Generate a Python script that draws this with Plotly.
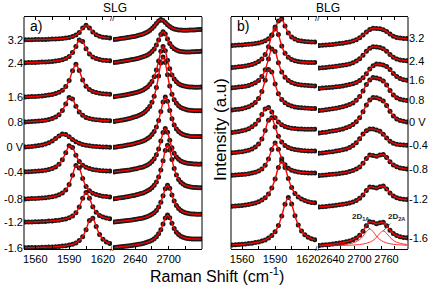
import plotly.graph_objects as go

# ---------------- data ----------------
VOLTAGES = ["3.2", "2.4", "1.6", "0.8", "0 V", "-0.4", "-0.8", "-1.2", "-1.6"]

G_SHIFT = [1551, 1554, 1557, 1560, 1563, 1566, 1569, 1572, 1575, 1578, 1581, 1584, 1587,
           1590, 1593, 1596, 1599, 1602, 1605, 1608, 1611, 1614, 1617, 1620, 1623, 1626]
SLG_2D_SHIFT = [2602, 2606, 2610, 2614, 2618, 2622, 2626, 2630, 2634, 2638, 2642, 2646, 2650,
                2654, 2658, 2662, 2666, 2670, 2674, 2678, 2682, 2686, 2690, 2694, 2698, 2702,
                2706, 2710, 2714, 2718, 2722, 2726, 2730, 2734, 2738, 2742, 2746, 2750, 2754, 2758]
BLG_2D_SHIFT = [2592.5, 2600, 2607.5, 2615, 2622.5, 2630, 2637.5, 2645, 2652.5, 2660, 2667.5,
                2675, 2682.5, 2690, 2697.5, 2705, 2712.5, 2720, 2727.5, 2735, 2742.5, 2750,
                2757.5, 2765, 2772.5, 2780, 2787.5]

G_TICKS = [1560, 1590, 1620]
G_TICK_TEXT = ["1560", "1590", "1620"]
G_MINOR = [1575, 1605]
SLG_2D_TICKS = [2640, 2700]
SLG_2D_TICK_TEXT = ["2640", "2700"]
SLG_2D_MINOR = [2670, 2730]
BLG_2D_TICKS = [2640, 2700, 2760]
BLG_2D_TICK_TEXT = ["2640", "2700", "2760"]
BLG_2D_MINOR = [2610, 2670, 2730]

# vertical offsets of the stacked spectra (a.u.)
SLG_OFFSET = [209, 186, 151.5, 126.5, 101, 76.5, 49.5, 26.5, 1]
BLG_OFFSET = [203, 180.5, 160, 137.5, 115, 95, 73, 41.5, 3]

# SLG, G band
slg_g_3p2 = [0.2, 0.3, 0.3, 0.4, 0.5, 0.5, 0.6, 0.7, 0.9, 1.0, 1.2, 1.5, 1.9, 2.4, 3.4, 4.9, 7.6, 11.9, 14.7, 12.1, 7.9, 5.2, 3.7, 2.8, 2.4, 2.1]
slg_g_2p4 = [0.3, 0.4, 0.5, 0.6, 0.8, 0.9, 1.1, 1.3, 1.6, 2.0, 2.5, 3.2, 4.5, 6.6, 10.4, 16.5, 23.0, 21.4, 14.3, 9.1, 6.1, 4.4, 3.5, 2.8, 2.5, 2.2]
slg_g_1p6 = [0.5, 0.7, 0.9, 1.1, 1.3, 1.6, 2.0, 2.5, 3.0, 3.9, 5.2, 7.3, 10.9, 17.0, 26.7, 33.2, 26.9, 17.4, 11.3, 7.9, 6.0, 4.9, 4.2, 3.7, 3.4, 3.2]
slg_g_0p8 = [0.6, 0.8, 1.0, 1.2, 1.4, 1.8, 2.2, 2.9, 3.9, 5.4, 7.8, 12.0, 18.6, 24.9, 23.5, 16.3, 10.6, 7.2, 5.1, 4.0, 3.2, 2.7, 2.4, 2.1, 2.0, 1.8]
slg_g_0 = [1.1, 1.3, 1.6, 1.9, 2.4, 3.0, 3.9, 5.2, 7.0, 9.4, 12.1, 13.9, 13.5, 11.2, 8.5, 6.3, 4.7, 3.6, 2.8, 2.2, 1.8, 1.5, 1.2, 1.1, 0.9, 0.8]
slg_g_m0p4 = [0.7, 0.8, 1.0, 1.2, 1.5, 1.8, 2.3, 2.9, 4.0, 5.6, 8.2, 12.7, 19.8, 26.7, 25.0, 17.3, 11.0, 7.3, 5.2, 3.9, 3.0, 2.4, 2.0, 1.8, 1.6, 1.4]
slg_g_m0p8 = [0.6, 0.7, 0.9, 1.0, 1.2, 1.5, 1.8, 2.2, 2.8, 3.5, 4.7, 6.6, 9.6, 15.1, 24.2, 33.9, 31.4, 21.0, 13.1, 8.8, 6.3, 4.9, 3.9, 3.3, 2.9, 2.6]
slg_g_m1p2 = [0.4, 0.5, 0.6, 0.7, 0.8, 1.0, 1.1, 1.4, 1.6, 1.9, 2.3, 2.9, 3.6, 4.8, 6.6, 9.8, 15.5, 24.2, 30.1, 24.3, 15.7, 10.2, 7.1, 5.4, 4.4, 3.7]
slg_g_m1p6 = [0.3, 0.4, 0.4, 0.5, 0.6, 0.7, 0.8, 0.9, 1.1, 1.3, 1.5, 1.9, 2.3, 2.9, 3.7, 5.1, 7.4, 11.3, 18.2, 27.6, 29.8, 21.4, 13.4, 8.7, 6.0, 4.5]

# SLG, 2D band
slg_2d_3p2 = [0.5, 0.8, 1.1, 1.4, 1.7, 2.1, 2.4, 2.8, 3.2, 3.6, 4.1, 4.7, 5.3, 6.0, 6.9, 8.1, 9.5, 11.4, 13.8, 16.6, 19.1, 20.4, 19.6, 17.6, 15.3, 13.4, 12.1, 11.1, 10.5, 10.1, 9.9, 9.8, 9.8, 9.8, 9.9, 10.0, 10.1, 10.3, 10.4, 10.6]
slg_2d_2p4 = [0.5, 0.8, 1.1, 1.5, 1.8, 2.2, 2.5, 2.9, 3.4, 3.8, 4.3, 4.8, 5.5, 6.2, 7.0, 8.1, 9.5, 11.4, 14.1, 17.9, 22.9, 28.4, 31.2, 29.0, 24.1, 19.6, 16.3, 14.2, 12.9, 12.1, 11.5, 11.2, 11.1, 11.0, 11.1, 11.2, 11.3, 11.4, 11.6, 11.8]
slg_2d_1p6 = [0.8, 1.2, 1.5, 1.8, 2.2, 2.5, 2.9, 3.4, 3.9, 4.4, 5.0, 5.7, 6.6, 7.6, 8.9, 10.6, 12.9, 16.1, 20.8, 27.4, 36.4, 46.3, 51.1, 46.7, 37.3, 28.8, 22.6, 18.4, 15.7, 13.8, 12.6, 11.8, 11.2, 10.8, 10.6, 10.4, 10.3, 10.3, 10.3, 10.4]
slg_2d_0p8 = [1.1, 1.5, 1.8, 2.2, 2.6, 3.1, 3.5, 4.1, 4.7, 5.4, 6.1, 6.9, 8.1, 9.3, 11.0, 13.2, 16.1, 20.3, 26.2, 34.9, 46.6, 59.4, 65.6, 59.9, 47.7, 36.4, 28.3, 22.8, 19.2, 16.7, 15.1, 14.0, 13.2, 12.6, 12.2, 12.1, 11.8, 11.8, 11.7, 11.8]
slg_2d_0 = [0.7, 1.1, 1.4, 1.8, 2.1, 2.5, 2.9, 3.3, 3.8, 4.3, 4.9, 5.5, 6.2, 7.0, 8.1, 9.4, 11.1, 13.4, 16.5, 21.1, 27.6, 36.5, 46.1, 50.9, 46.7, 37.5, 29.2, 23.1, 19.1, 16.4, 14.7, 13.5, 12.7, 12.2, 11.8, 11.6, 11.5, 11.5, 11.4, 11.5]
slg_2d_m0p4 = [0.6, 0.9, 1.2, 1.4, 1.7, 2.0, 2.3, 2.6, 2.9, 3.4, 3.8, 4.4, 5.0, 5.6, 6.5, 7.6, 9.1, 11.1, 13.8, 17.8, 23.6, 31.5, 40.0, 44.1, 40.3, 32.2, 24.7, 19.3, 15.6, 13.2, 11.6, 10.5, 9.7, 9.2, 8.9, 8.7, 8.5, 8.4, 8.3, 8.4]
slg_2d_m0p8 = [0.7, 1.0, 1.4, 1.7, 2.1, 2.4, 2.8, 3.2, 3.7, 4.1, 4.7, 5.3, 5.9, 6.6, 7.6, 8.7, 10.0, 11.8, 14.2, 17.6, 22.4, 29.4, 38.8, 49.1, 54.2, 49.6, 39.9, 30.9, 24.5, 20.1, 17.3, 15.4, 14.1, 13.3, 12.7, 12.3, 12.0, 12.0, 11.8, 11.8]
slg_2d_m1p2 = [0.5, 0.7, 1.0, 1.2, 1.5, 1.7, 2.0, 2.3, 2.5, 2.9, 3.3, 3.7, 4.1, 4.6, 5.2, 6.0, 7.0, 8.2, 9.8, 12.1, 15.5, 20.3, 26.8, 33.8, 37.3, 34.2, 27.5, 21.4, 16.9, 13.9, 12.0, 10.7, 9.8, 9.2, 8.8, 8.6, 8.4, 8.3, 8.3, 8.3]
slg_2d_m1p6 = [0.4, 0.7, 0.9, 1.2, 1.4, 1.7, 2.0, 2.3, 2.6, 2.9, 3.3, 3.7, 4.1, 4.6, 5.2, 5.9, 6.7, 7.8, 9.3, 11.3, 14.2, 18.3, 23.9, 29.9, 32.9, 30.3, 24.7, 19.5, 15.8, 13.4, 11.8, 10.7, 10.0, 9.6, 9.3, 9.1, 9.0, 9.0, 9.0, 9.1]

# BLG, G band
blg_g_3p2 = [0.5, 0.7, 0.9, 1.1, 1.4, 1.7, 2.1, 2.5, 3.1, 4.0, 5.2, 7.3, 10.8, 16.9, 25.1, 27.1, 19.9, 13.0, 9.1, 6.9, 5.6, 4.9, 4.4, 4.2, 4.0, 3.9]
blg_g_2p4 = [0.9, 1.3, 1.7, 2.1, 2.6, 3.3, 4.1, 5.3, 7.0, 9.6, 14.0, 21.7, 33.6, 41.6, 34.0, 22.5, 15.2, 11.2, 9.0, 7.7, 6.9, 6.5, 6.2, 6.1, 6.1, 6.1]
blg_g_1p6 = [1.2, 1.5, 1.9, 2.2, 2.8, 3.6, 4.7, 6.3, 8.6, 12.6, 19.3, 29.9, 40.1, 37.6, 26.2, 17.1, 11.7, 8.5, 6.5, 5.3, 4.6, 4.1, 3.7, 3.4, 3.2, 3.1]
blg_g_0p8 = [1.5, 1.9, 2.3, 2.8, 3.7, 4.8, 6.5, 9.0, 13.1, 20.1, 31.3, 41.9, 39.4, 27.4, 17.8, 12.1, 8.7, 6.8, 5.4, 4.6, 4.1, 3.7, 3.5, 3.2, 3.1, 3.0]
blg_g_0 = [1.5, 2.0, 2.5, 3.2, 4.1, 5.3, 7.2, 9.8, 13.8, 19.4, 25.1, 26.4, 21.9, 16.3, 12.0, 9.3, 7.6, 6.5, 5.8, 5.4, 5.1, 5.0, 4.8, 4.8, 4.8, 4.8]
blg_g_m0p4 = [1.2, 1.5, 1.9, 2.3, 3.0, 3.8, 5.1, 7.0, 9.9, 15.0, 23.4, 33.8, 36.2, 27.1, 17.8, 11.9, 8.5, 6.5, 5.2, 4.4, 3.9, 3.5, 3.3, 3.1, 3.0, 2.9]
blg_g_m0p8 = [0.7, 0.9, 1.2, 1.5, 1.8, 2.3, 2.9, 3.8, 5.0, 7.1, 10.7, 16.9, 26.6, 33.0, 26.7, 17.2, 11.2, 7.8, 5.8, 4.7, 4.0, 3.6, 3.3, 3.1, 2.9, 2.9]
blg_g_m1p2 = [1.2, 1.5, 1.8, 2.1, 2.5, 3.1, 3.7, 4.6, 5.7, 7.4, 9.8, 13.5, 19.5, 28.5, 39.9, 46.2, 40.1, 28.9, 19.9, 14.1, 10.6, 8.4, 6.9, 5.8, 5.1, 4.7]
blg_g_m1p6 = [1.0, 1.2, 1.5, 1.7, 2.0, 2.4, 2.8, 3.4, 4.0, 4.9, 6.1, 7.9, 10.4, 14.2, 20.4, 29.9, 41.8, 48.4, 41.9, 30.2, 20.9, 14.9, 11.2, 8.8, 7.2, 6.2]

# BLG, 2D band
blg_2d_3p2 = [0.4, 0.7, 1.0, 1.3, 1.6, 2.0, 2.4, 2.8, 3.4, 4.1, 5.0, 6.3, 8.2, 11.0, 14.1, 16.5, 17.7, 17.6, 17.2, 16.3, 14.4, 11.9, 9.8, 8.5, 7.9, 7.6, 7.4]
blg_2d_2p4 = [0.5, 0.8, 1.1, 1.5, 1.8, 2.2, 2.7, 3.2, 3.8, 4.6, 5.7, 7.4, 9.8, 13.3, 17.2, 20.2, 21.7, 21.5, 20.9, 19.7, 17.2, 13.9, 11.2, 9.5, 8.6, 8.1, 7.8]
blg_2d_1p6 = [0.6, 0.9, 1.2, 1.5, 1.8, 2.2, 2.6, 3.1, 3.7, 4.4, 5.3, 6.5, 8.4, 11.2, 15.2, 19.9, 23.2, 24.9, 24.8, 23.9, 22.5, 19.6, 15.6, 12.5, 10.4, 9.3, 8.7]
blg_2d_0p8 = [0.9, 1.3, 1.7, 2.2, 2.7, 3.3, 3.9, 4.7, 5.7, 6.9, 8.6, 11.2, 15.0, 20.5, 26.9, 31.6, 33.9, 33.6, 32.5, 30.6, 26.5, 21.0, 16.6, 13.8, 12.3, 11.5, 10.9]
blg_2d_0 = [0.9, 1.4, 1.8, 2.4, 3.0, 3.6, 4.3, 5.1, 6.2, 7.5, 9.4, 12.2, 16.3, 22.2, 29.0, 34.0, 36.5, 36.3, 35.0, 33.0, 28.6, 22.8, 18.1, 15.1, 13.6, 12.7, 12.1]
blg_2d_m0p4 = [0.7, 1.1, 1.4, 1.9, 2.3, 2.9, 3.5, 4.2, 5.1, 6.4, 8.4, 11.2, 15.2, 19.9, 23.3, 25.1, 24.9, 24.1, 22.8, 19.8, 15.9, 12.8, 10.8, 9.8, 9.2, 8.9, 8.7]
blg_2d_m0p8 = [0.6, 0.8, 1.1, 1.4, 1.7, 2.1, 2.5, 3.0, 3.6, 4.4, 5.4, 6.9, 9.1, 12.7, 17.4, 20.9, 20.6, 19.8, 21.0, 21.6, 18.5, 14.2, 11.1, 9.2, 8.1, 7.4, 7.0]
blg_2d_m1p2 = [0.5, 0.8, 1.1, 1.5, 1.8, 2.2, 2.7, 3.2, 3.8, 4.6, 5.6, 7.0, 9.2, 12.6, 17.1, 20.5, 20.3, 19.5, 20.8, 21.4, 18.5, 14.5, 11.5, 9.8, 8.8, 8.3, 8.0]
blg_2d_m1p6 = [0.6, 0.9, 1.3, 1.6, 2.0, 2.4, 2.9, 3.5, 4.2, 5.1, 6.3, 8.0, 10.7, 14.8, 20.3, 24.3, 23.8, 22.3, 23.3, 23.7, 20.3, 15.7, 12.4, 10.5, 9.3, 8.6, 8.2]
# fitted 2D components of the BLG spectrum at -1.6 V
blg_2d1a_m1p6 = [0.41, 0.46, 0.53, 0.61, 0.73, 0.88, 1.07, 1.33, 1.7, 2.23, 3.04, 4.32, 6.41, 9.79, 14.4, 17.0, 14.4, 9.79, 6.41, 4.32, 3.04, 2.23, 1.7, 1.33, 1.07, 0.88, 0.73]
blg_2d2a_m1p6 = [0.23, 0.25, 0.27, 0.32, 0.36, 0.41, 0.47, 0.54, 0.65, 0.78, 0.95, 1.17, 1.5, 1.97, 2.69, 3.81, 5.66, 8.64, 12.7, 15.0, 12.7, 8.64, 5.66, 3.81, 2.69, 1.97, 1.5]

SLG_G = [slg_g_3p2, slg_g_2p4, slg_g_1p6, slg_g_0p8, slg_g_0, slg_g_m0p4, slg_g_m0p8, slg_g_m1p2, slg_g_m1p6]
SLG_2D = [slg_2d_3p2, slg_2d_2p4, slg_2d_1p6, slg_2d_0p8, slg_2d_0, slg_2d_m0p4, slg_2d_m0p8, slg_2d_m1p2, slg_2d_m1p6]
BLG_G = [blg_g_3p2, blg_g_2p4, blg_g_1p6, blg_g_0p8, blg_g_0, blg_g_m0p4, blg_g_m0p8, blg_g_m1p2, blg_g_m1p6]
BLG_2D = [blg_2d_3p2, blg_2d_2p4, blg_2d_1p6, blg_2d_0p8, blg_2d_0, blg_2d_m0p4, blg_2d_m0p8, blg_2d_m1p2, blg_2d_m1p6]

# ---------------- styling ----------------
FONT = "Liberation Sans, Arial, sans-serif"
DOT = dict(color="#1a1a1a", size=5, line=dict(width=0))
FIT = dict(color="#ff0000", width=1.4, shape="spline", smoothing=0.8)

fig = go.Figure()


def add_spec(xs, ys, off, xa, ya):
    yy = [off + v for v in ys]
    fig.add_trace(go.Scatter(x=xs, y=yy, mode="markers", marker=DOT,
                             xaxis=xa, yaxis=ya, showlegend=False, hoverinfo="skip"))
    fig.add_trace(go.Scatter(x=xs, y=yy, mode="lines", line=FIT,
                             xaxis=xa, yaxis=ya, showlegend=False, hoverinfo="skip"))


for i in range(len(VOLTAGES)):
    add_spec(G_SHIFT, SLG_G[i], SLG_OFFSET[i], "x", "y")
    add_spec(SLG_2D_SHIFT, SLG_2D[i], SLG_OFFSET[i], "x2", "y")
    add_spec(G_SHIFT, BLG_G[i], BLG_OFFSET[i], "x3", "y2")
    add_spec(BLG_2D_SHIFT, BLG_2D[i], BLG_OFFSET[i], "x4", "y2")

for comp in (blg_2d1a_m1p6, blg_2d2a_m1p6):
    fig.add_trace(go.Scatter(x=BLG_2D_SHIFT, y=[BLG_OFFSET[-1] + v for v in comp], mode="lines",
                             line=dict(color="#ff0000", width=0.8, shape="spline"),
                             xaxis="x4", yaxis="y2", showlegend=False, hoverinfo="skip"))

slg_label_pos = [SLG_OFFSET[i] + SLG_G[i][0] for i in range(len(VOLTAGES))]
blg_label_pos = [BLG_OFFSET[i] + BLG_2D[i][-1] for i in range(len(VOLTAGES))]

W, H = 436, 287
L, R, T, B = 24, 28, 17, 38
PW = W - L - R


def px(xp):
    return (xp - L) / PW


def py(yp):
    return (H - B - yp) / (H - T - B)


def xax(minor_vals):
    return dict(showline=True, mirror="ticks", linecolor="black", linewidth=1,
                ticks="inside", ticklen=3, tickwidth=1, tickcolor="black", tickangle=0,
                minor=dict(tickmode="array", tickvals=minor_vals, ticks="inside",
                           ticklen=3, tickwidth=1, tickcolor="black"),
                automargin=False,
                showgrid=False, zeroline=False, tickfont=dict(size=11, color="black"))


ycommon = dict(range=[0, 232], showgrid=False, zeroline=False, showline=False,
               ticks="", tickfont=dict(size=11, color="black"), domain=[0, 1],
               automargin=False)

fig.update_layout(
    width=W, height=H, margin=dict(l=L, r=R, t=T, b=B, autoexpand=False),
    paper_bgcolor="white", plot_bgcolor="white",
    font=dict(family=FONT, color="black"),
    xaxis=dict(domain=[0, px(112)], range=[1550, 1628], anchor="y",
               tickvals=G_TICKS, ticktext=G_TICK_TEXT, **xax(G_MINOR)),
    xaxis2=dict(domain=[px(113), px(202)], range=[2600, 2760], anchor="y",
                tickvals=SLG_2D_TICKS, ticktext=SLG_2D_TICK_TEXT, **xax(SLG_2D_MINOR)),
    xaxis3=dict(domain=[px(231), px(317)], range=[1550, 1628], anchor="y2",
                tickvals=G_TICKS, ticktext=G_TICK_TEXT, **xax(G_MINOR)),
    xaxis4=dict(domain=[px(318), 1.0], range=[2590, 2790], anchor="y2",
                tickvals=BLG_2D_TICKS, ticktext=BLG_2D_TICK_TEXT, ticklabelshift=-8,
                **xax(BLG_2D_MINOR)),
    yaxis=dict(anchor="x", side="left", tickvals=slg_label_pos, ticktext=VOLTAGES, **ycommon),
    yaxis2=dict(anchor="x4", side="right", tickvals=blg_label_pos, ticktext=VOLTAGES, **ycommon),
)

# panel side borders
for xp in (24, 202, 231, 408):
    fig.add_shape(type="line", xref="paper", yref="paper", x0=px(xp), x1=px(xp), y0=0, y1=1,
                  line=dict(color="black", width=1))

# top labels (anchored at the very top of the page)
for txt, xc in (("SLG", 115), ("BLG", 328)):
    fig.add_annotation(text=txt, x=px(xc), y=py(0), xref="paper", yref="paper",
                       showarrow=False, xanchor="center", yanchor="top", borderpad=0,
                       font=dict(size=12, family=FONT, color="black"))

ann = [
    dict(text="a)", x=px(36), y=py(26), size=14),
    dict(text="b)", x=px(243), y=py(26), size=14),
    dict(text="//", x=px(112.5), y=py(19), size=8),
    dict(text="//", x=px(112.5), y=py(248), size=8),
    dict(text="//", x=px(317.5), y=py(19), size=8),
    dict(text="//", x=px(317.5), y=py(248), size=8),
    dict(text="Raman Shift (cm<sup>-1</sup>)", x=px(217), y=py(275), size=16),
]
for a in ann:
    fig.add_annotation(text=a["text"], x=a["x"], y=a["y"], xref="paper", yref="paper",
                       showarrow=False, xanchor="center", yanchor="middle",
                       font=dict(size=a["size"], family=FONT, color="black"))
fig.add_annotation(text="Intensity (a.u)", x=px(220), y=py(130), xref="paper", yref="paper",
                   showarrow=False, textangle=-90, xanchor="center", yanchor="middle",
                   font=dict(size=17, family=FONT, color="black"))

# component labels
peak_a = blg_2d1a_m1p6.index(max(blg_2d1a_m1p6))
peak_b = blg_2d2a_m1p6.index(max(blg_2d2a_m1p6))
fig.add_annotation(text="<b>2D<sub>1A</sub></b>", x=BLG_2D_SHIFT[peak_a],
                   y=BLG_OFFSET[-1] + blg_2d1a_m1p6[peak_a], xref="x4", yref="y2",
                   showarrow=True, arrowhead=0, arrowwidth=0.8, arrowcolor="#333",
                   ax=-9, ay=-12, font=dict(size=8, family=FONT, color="#222"))
fig.add_annotation(text="<b>2D<sub>2A</sub></b>", x=BLG_2D_SHIFT[peak_b],
                   y=BLG_OFFSET[-1] + blg_2d2a_m1p6[peak_b], xref="x4", yref="y2",
                   showarrow=True, arrowhead=0, arrowwidth=0.8, arrowcolor="#333",
                   ax=13, ay=-14, font=dict(size=8, family=FONT, color="#222"))

fig.write_html("out.html", config={"displayModeBar": False},
               post_script="document.body.style.margin='0';document.body.style.overflow='hidden';")
